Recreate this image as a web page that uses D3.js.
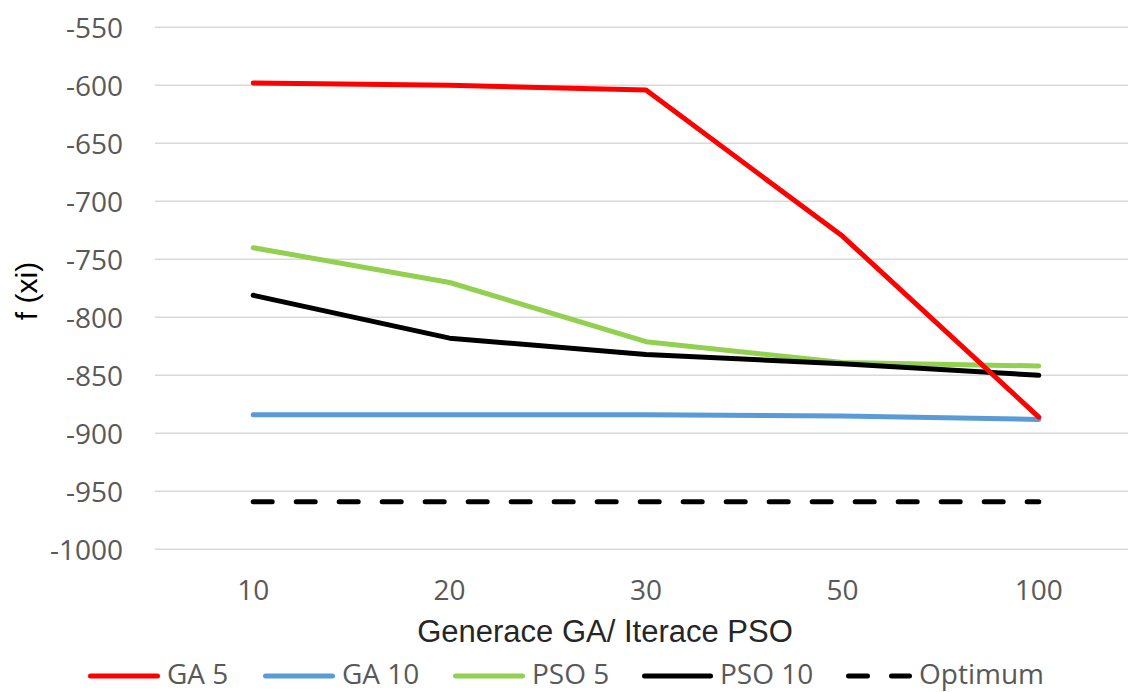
<!DOCTYPE html>
<html>
<head>
<meta charset="utf-8">
<script src="https://cdn.jsdelivr.net/npm/d3@7"></script>
<style>
  html, body { margin: 0; padding: 0; background: #fff; }
  svg { display: block; }
</style>
</head>
<body>
<svg id="chart" width="1128" height="692"></svg>
<script>
// Categories on the x axis (generations / iterations)
const categories = ["10", "20", "30", "50", "100"];

// Series values f(xi)
const ga5    = [-598, -600, -604, -730, -886];
const ga10   = [-884, -884, -884, -885, -888];
const pso5   = [-740, -770, -821, -839, -842];
const pso10  = [-781, -818, -832, -840, -850];
const optimum = [-959, -959, -959, -959, -959];

const seriesNames = ["GA 5", "GA 10", "PSO 5", "PSO 10", "Optimum"];
const seriesColors = ["#ff0000", "#5b9bd5", "#92d050", "#000000", "#000000"];
const seriesDashed = [false, false, false, false, true];
const seriesValues = [ga5, ga10, pso5, pso10, optimum];

// Y axis tick values
const yTicks = [-550, -600, -650, -700, -750, -800, -850, -900, -950, -1000];

const svg = d3.select("#chart");
const textColor = "#595959";
const tickFont = "'Open Sans', sans-serif";
const titleFont = "'Liberation Sans', Arial, sans-serif";

const x = d3.scaleBand().domain(categories).range([155, 1137]);
const y = d3.scaleLinear().domain([-1000, -550]).range([549.3, 27.3]);

// Horizontal gridlines
svg.append("g")
  .selectAll("line")
  .data(yTicks)
  .join("line")
  .attr("x1", 155).attr("x2", 1128)
  .attr("y1", d => y(d)).attr("y2", d => y(d))
  .attr("stroke", "#d9d9d9")
  .attr("stroke-width", 1.5);

// Y axis labels (plain hyphen, no thousands separator)
const yAxis = d3.axisLeft(y)
  .tickValues(yTicks)
  .tickFormat(d => String(d))
  .tickSize(0).tickPadding(0);
const gy = svg.append("g").attr("transform", "translate(123,0)").call(yAxis);
gy.select(".domain").remove();
gy.selectAll("text")
  .attr("font-family", tickFont)
  .attr("font-size", 28)
  .attr("fill", textColor)
  .attr("dy", "0.35em");

// X axis labels
const xAxis = d3.axisBottom(x).tickSize(0).tickPadding(0);
const gx = svg.append("g").attr("transform", "translate(0,600)").call(xAxis);
gx.select(".domain").remove();
gx.selectAll("text")
  .attr("font-family", tickFont)
  .attr("font-size", 28)
  .attr("fill", textColor)
  .attr("dy", 0)
  .attr("y", 0);

// Axis titles
svg.append("text")
  .attr("x", 605).attr("y", 642)
  .attr("text-anchor", "middle")
  .attr("font-family", titleFont)
  .attr("font-size", 31)
  .attr("fill", "#262626")
  .text("Generace GA/ Iterace PSO");

svg.append("text")
  .attr("transform", "translate(37,291) rotate(-90)")
  .attr("text-anchor", "middle")
  .attr("font-family", titleFont)
  .attr("font-size", 30)
  .attr("fill", "#000")
  .text("f (xi)");

// Lines
const line = d3.line()
  .x((d, i) => x(categories[i]) + x.bandwidth() / 2)
  .y(d => y(d));

const drawOrder = [1, 2, 3, 4, 0];
svg.append("g")
  .selectAll("path")
  .data(drawOrder)
  .join("path")
  .attr("d", i => line(seriesValues[i]))
  .attr("fill", "none")
  .attr("stroke", i => seriesColors[i])
  .attr("stroke-width", 5)
  .attr("stroke-linecap", "round")
  .attr("stroke-linejoin", "round")
  .attr("stroke-dasharray", i => seriesDashed[i] ? "19,24" : null);

// Legend
const legendItems = [
  { x: 88, w: 72 },
  { x: 263, w: 72 },
  { x: 453, w: 72 },
  { x: 642, w: 71 },
  { x: 846, w: 66 }
];
const legendY = 676;
const lg = svg.append("g");
seriesNames.forEach((name, i) => {
  const it = legendItems[i];
  lg.append("line")
    .attr("x1", it.x + 2.5).attr("x2", it.x + it.w - 2.5)
    .attr("y1", legendY).attr("y2", legendY)
    .attr("stroke", seriesColors[i])
    .attr("stroke-width", 5)
    .attr("stroke-linecap", "round")
    .attr("stroke-dasharray", seriesDashed[i] ? "19,24" : null);
  lg.append("text")
    .attr("x", it.x + it.w + 7)
    .attr("y", legendY + 8)
    .attr("font-family", tickFont)
    .attr("font-size", 28)
    .attr("fill", textColor)
    .text(name);
});
</script>
</body>
</html>
